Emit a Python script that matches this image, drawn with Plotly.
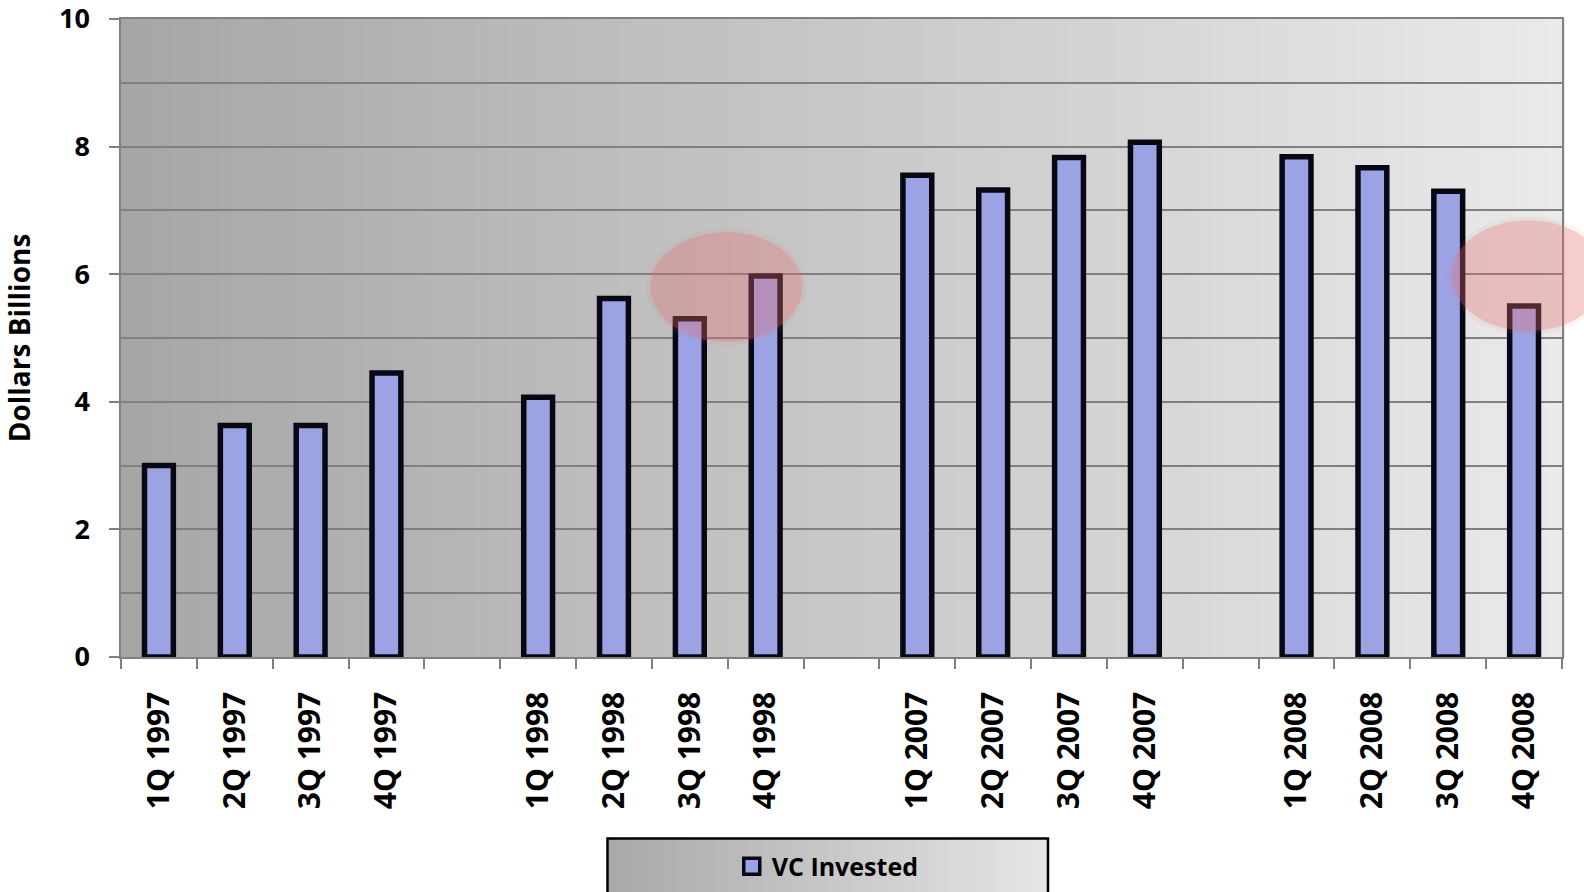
import plotly.graph_objects as go

# Quarterly venture capital invested (billions of dollars); blank slots separate the years
quarters = ["1Q 1997", "2Q 1997", "3Q 1997", "4Q 1997", " ",
            "1Q 1998", "2Q 1998", "3Q 1998", "4Q 1998", "  ",
            "1Q 2007", "2Q 2007", "3Q 2007", "4Q 2007", "   ",
            "1Q 2008", "2Q 2008", "3Q 2008", "4Q 2008"]
vc_invested = [3.0, 3.63, 3.63, 4.45, None,
               4.07, 5.62, 5.30, 5.97, None,
               7.55, 7.32, 7.83, 8.07, None,
               7.84, 7.67, 7.30, 5.50]
y_ticks = [0, 2, 4, 6, 8, 10]

FONT = "Open Sans"
BAR_FILL = "rgb(155,163,229)"
OUTLINE = "rgb(8,8,20)"
GRID = "rgb(128,128,128)"

fig = go.Figure()
fig.add_trace(go.Bar(
    x=quarters, y=vc_invested, name="VC Invested",
    width=0.38, showlegend=False, legendgroup="vc",
    marker=dict(color=BAR_FILL, line=dict(color=OUTLINE, width=5.5)),
))
# legend entry with a larger square key for the bar series
fig.add_trace(go.Scatter(
    x=[None], y=[None], mode="markers", name="VC Invested", legendgroup="vc",
    marker=dict(symbol="square", size=22, color=BAR_FILL, line=dict(color=OUTLINE, width=3.5)),
    hoverinfo="skip",
))

shapes = []

# horizontal grey gradient behind the plot area
n_strips = 90
lo, hi = 166, 234
for i in range(n_strips):
    v = round(lo + (hi - lo) * (i + 0.5) / n_strips)
    shapes.append(dict(type="rect", xref="paper", yref="paper",
                       x0=i / n_strips, x1=(i + 1) / n_strips + 0.002, y0=0, y1=1,
                       fillcolor=f"rgb({v},{v},{v})", line=dict(width=0), layer="below"))

# legend box with its own gradient
lx0, lx1, ly0, ly1 = 0.3376, 0.6433, -0.400, -0.2845
n_leg = 40
for i in range(n_leg):
    v = round(168 + (230 - 168) * (i + 0.5) / n_leg)
    shapes.append(dict(type="rect", xref="paper", yref="paper",
                       x0=lx0 + (lx1 - lx0) * i / n_leg,
                       x1=lx0 + (lx1 - lx0) * (i + 1) / n_leg + 0.0005,
                       y0=ly0, y1=ly1,
                       fillcolor=f"rgb({v},{v},{v})", line=dict(width=0), layer="below"))
shapes.append(dict(type="rect", xref="paper", yref="paper",
                   x0=lx0, x1=lx1, y0=ly0, y1=ly1,
                   fillcolor="rgba(0,0,0,0)", line=dict(color="black", width=2.5), layer="above"))

# translucent red highlight ellipses (soft halo + core)
for (ex0, ex1, ey0, ey1) in [(0.3664, 0.4740, 0.492, 0.668), (0.9222, 1.0312, 0.509, 0.6865)]:
    shapes.append(dict(type="circle", xref="paper", yref="paper",
                       x0=ex0 - 0.002, x1=ex1 + 0.002, y0=ey0 - 0.004, y1=ey1 + 0.004,
                       fillcolor="rgba(232,120,120,0.07)", line=dict(width=0), layer="above"))
    shapes.append(dict(type="circle", xref="paper", yref="paper",
                       x0=ex0 + 0.001, x1=ex1 - 0.001, y0=ey0 + 0.002, y1=ey1 - 0.002,
                       fillcolor="rgba(232,108,108,0.29)", line=dict(width=0), layer="above"))

fig.update_layout(
    width=1584, height=892,
    margin=dict(l=121, r=22, t=19, b=235, autoexpand=False),
    paper_bgcolor="white",
    plot_bgcolor="rgba(0,0,0,0)",
    font=dict(family=FONT, color="black", size=26, weight="bold"),
    shapes=shapes,
    showlegend=True,
    legend=dict(
        x=(lx0 + lx1) / 2 + 0.0, xanchor="center",
        y=(ly0 + ly1) / 2 + 0.014, yanchor="middle",
        bgcolor="rgba(0,0,0,0)", borderwidth=0,
        font=dict(family=FONT, size=25, color="black", weight="bold"),
        itemsizing="trace",
    ),
    xaxis=dict(
        type="category", categoryorder="array", categoryarray=quarters,
        range=[-0.5, len(quarters) - 0.5],
        tickson="boundaries", ticks="outside", ticklen=10, tickcolor=GRID, tickwidth=1.5,
        tickangle=-90, ticklabelstandoff=21,
        tickfont=dict(family=FONT, size=30, color="black", weight="bold"),
        showline=True, linecolor=GRID, linewidth=1.5, mirror=True,
        showgrid=False, zeroline=False, fixedrange=True,
    ),
    yaxis=dict(
        range=[0, 10], tickmode="array", tickvals=y_ticks,
        ticktext=[str(v) for v in y_ticks],
        ticklabeloverflow="allow",
        ticks="outside", ticklen=10, tickcolor=GRID, tickwidth=1.5,
        ticklabelstandoff=14,
        tickfont=dict(family=FONT, size=27, color="black", weight="bold"),
        showline=True, linecolor=GRID, linewidth=1.5, mirror=True,
        showgrid=True, gridcolor=GRID, gridwidth=1.5,
        minor=dict(dtick=1, tick0=0, showgrid=True, gridcolor=GRID, gridwidth=1.5, ticks=""),
        zeroline=False, fixedrange=True,
        title=dict(text="Dollars Billions", standoff=24,
                   font=dict(family=FONT, size=28, color="black", weight="bold")),
    ),
    bargap=0.62,
)

fig.write_html("out.html")
